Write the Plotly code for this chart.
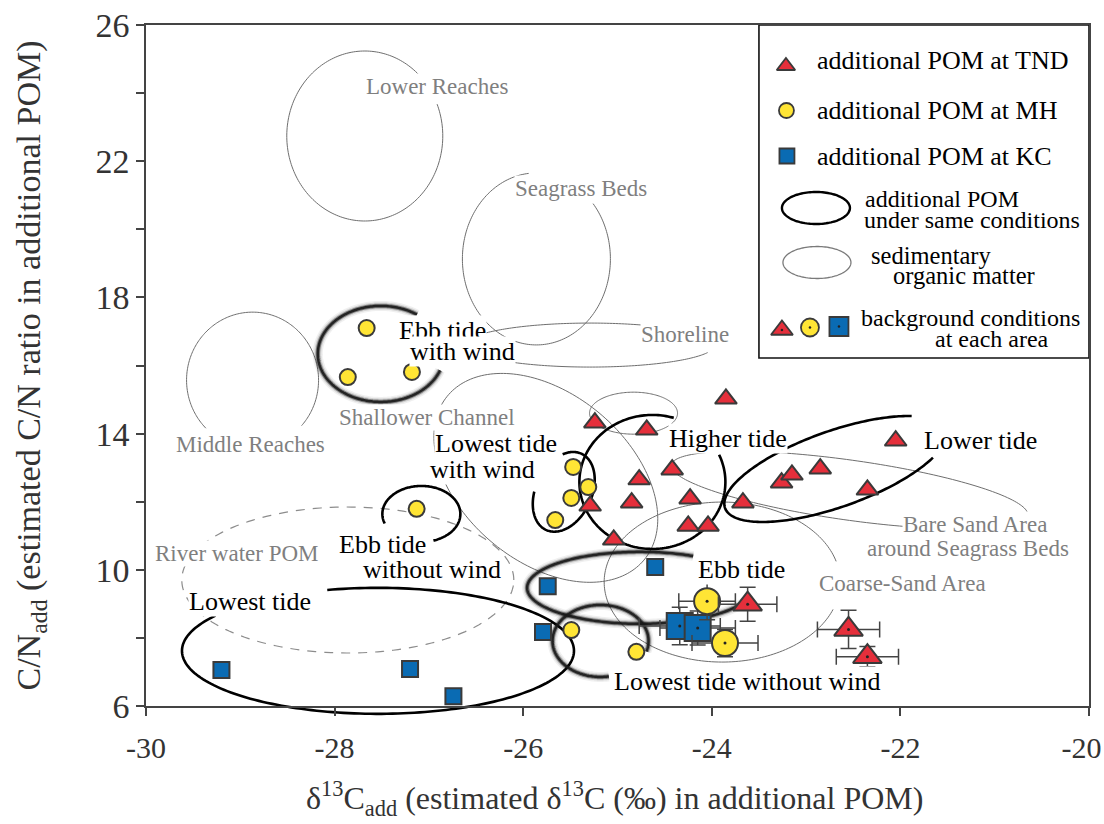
import numpy as np
import plotly.graph_objects as go

FONT = "Liberation Serif, Times New Roman, serif"

# ---------------- data ----------------
# additional POM, TND (triangles)
tnd_d13c = [-25.24, -24.69, -23.85, -24.42, -24.77, -24.85, -25.29, -24.23, -24.25,
            -24.04, -25.04, -23.67, -23.26, -23.15, -22.85, -22.35, -22.05]
tnd_cn = [14.32, 14.11, 15.02, 12.94, 12.65, 11.97, 11.88, 12.09, 11.29,
          11.29, 10.88, 11.97, 12.56, 12.79, 12.97, 12.35, 13.79]
# additional POM, MH (circles)
mh_d13c = [-27.66, -27.86, -27.18, -27.13, -25.47, -25.31, -25.49, -25.66, -25.49, -24.80]
mh_cn = [17.10, 15.66, 15.81, 11.79, 13.02, 12.43, 12.11, 11.46, 8.23, 7.59]
# additional POM, KC (squares)
kc_d13c = [-29.20, -27.20, -26.74, -24.60, -25.74, -25.79]
kc_cn = [7.06, 7.09, 6.29, 10.08, 9.52, 8.17]

# background conditions at each area (mean and SD)
bg_tnd_d13c = [-23.62, -22.55, -22.35]
bg_tnd_cn = [8.99, 8.25, 7.45]
bg_tnd_d13c_sd = [0.31, 0.33, 0.33]
bg_tnd_cn_sd = [0.50, 0.56, 0.30]
bg_mh_d13c = [-24.05, -23.86]
bg_mh_cn = [9.08, 7.85]
bg_mh_d13c_sd = [0.30, 0.35]
bg_mh_cn_sd = [0.55, 0.40]
bg_kc_d13c = [-24.34, -24.15]
bg_kc_cn = [8.35, 8.29]
bg_kc_d13c_sd = [0.43, 0.40]
bg_kc_cn_sd = [0.55, 0.50]

x_ticks = [-30, -28, -26, -24, -22, -20]
# last label padded with non-breaking spaces so it stays inside the page edge
x_ticklabels = ["-30", "-28", "-26", "-24", "-22", "-20\u00a0\u00a0"]
y_ticks = [6, 10, 14, 18, 22, 26]

# ---------------- layout geometry ----------------
W, H = 1104, 824
MARGIN = dict(l=146, r=15, t=25, b=118)
PLOT_W = W - MARGIN["l"] - MARGIN["r"]
PLOT_H = H - MARGIN["t"] - MARGIN["b"]
X0, X1 = -30, -20
Y0, Y1 = 6, 26

RED, YELLOW, BLUE = "#E52F3B", "#FFE535", "#0A6BB3"
EDGE = "#3a3a3a"


def ring(cx, cy, a, b, rot=0.0, arc=(0, 360), n=200):
    """Ellipse (or open arc) centred on a data point; a, b are pixel semi-axes."""
    t = np.radians(np.linspace(arc[0], arc[1], n))
    r = np.radians(rot)
    u, v = a * np.cos(t), b * np.sin(t)
    dx = u * np.cos(r) - v * np.sin(r)
    dy = u * np.sin(r) + v * np.cos(r)
    xs = (cx - X0) / (X1 - X0) + dx / PLOT_W
    ys = (cy - Y0) / (Y1 - Y0) + dy / PLOT_H
    d = "M" + "L".join(f"{x:.5f},{y:.5f}" for x, y in zip(xs, ys))
    if arc[1] - arc[0] >= 360:
        d += "Z"
    return d


# sedimentary organic matter outlines: centre (d13C, C/N), pixel semi-axes, tilt, drawn arc
sediment_outlines = [
    dict(c=(-27.68, 22.74), a=78, b=85, rot=0, arc=(46, 382)),      # Lower Reaches
    dict(c=(-25.86, 19.13), a=74, b=86, rot=0, arc=(96, 400)),      # Seagrass Beds
    dict(c=(-25.29, 16.60), a=125, b=22, rot=0, arc=(60, 340)),     # Shoreline
    dict(c=(-24.83, 14.60), a=44, b=21, rot=0, arc=(0, 360)),       # Shoreline (inner)
    dict(c=(-28.87, 15.57), a=66, b=68, rot=0, arc=(318, 585)),     # Middle Reaches
    dict(c=(-25.76, 12.70), a=128, b=84, rot=-40, arc=(0, 360)),    # Shallower Channel
    dict(c=(-23.89, 9.64), a=118, b=80, rot=0, arc=(15, 340)),      # Coarse-Sand Area
    dict(c=(-22.54, 12.34), a=180, b=30, rot=-8, arc=(0, 360)),     # Bare Sand Area
]
river_outline = dict(c=(-27.86, 9.70), a=166, b=73, rot=0, arc=(0, 360))

# additional POM under the same conditions
condition_outlines = [
    dict(c=(-27.08, 11.64), a=39, b=28, rot=0, arc=(-72, 200), soft=False),    # Ebb tide without wind
    dict(c=(-27.54, 7.62), a=196, b=63, rot=0, arc=(146, 465), soft=False),    # Lowest tide
    dict(c=(-25.57, 12.29), a=42, b=28, rot=65, arc=(107, 397), soft=False),   # Lowest tide with wind
    dict(c=(-24.63, 12.58), a=73, b=67, rot=0, arc=(73, 384), soft=False),     # Higher tide
    dict(c=(-22.69, 12.96), a=117, b=38, rot=19.5, arc=(40, 325), soft=False), # Lower tide
    dict(c=(-27.51, 16.34), a=63, b=48, rot=0, arc=(55, 340), soft=True),      # Ebb tide with wind
    dict(c=(-24.76, 9.47), a=113, b=36, rot=0, arc=(62, 343), soft=True),      # Ebb tide
    dict(c=(-25.18, 7.91), a=48, b=36, rot=0, arc=(-17, 280), soft=True),      # Lowest tide without wind
]

shapes = []
for o in sediment_outlines:
    shapes.append(dict(type="path", xref="paper", yref="paper", layer="below",
                       path=ring(*o["c"], o["a"], o["b"], o["rot"], o["arc"]),
                       line=dict(color="#6e6e6e", width=1)))
shapes.append(dict(type="path", xref="paper", yref="paper", layer="below",
                   path=ring(*river_outline["c"], river_outline["a"], river_outline["b"],
                             river_outline["rot"], river_outline["arc"]),
                   line=dict(color="#8c8c8c", width=1.2, dash="9px,8px")))

SOFT = [(10, "rgba(0,0,0,0.06)"), (7, "rgba(0,0,0,0.12)"),
        (4.5, "rgba(25,25,25,0.45)"), (2.5, "rgba(25,25,25,0.9)")]
for o in condition_outlines:
    p = ring(*o["c"], o["a"], o["b"], o["rot"], o["arc"])
    if o["soft"]:
        for w, col in SOFT:
            shapes.append(dict(type="path", xref="paper", yref="paper", layer="below",
                               path=p, line=dict(color=col, width=w)))
    else:
        shapes.append(dict(type="path", xref="paper", yref="paper", layer="below",
                           path=p, line=dict(color="black", width=2.6)))

# legend frame (paper) and legend ellipses (legend-local pixel axes)
LEG_DOM_X = [0.650, 1.0]
LEG_DOM_Y = [0.511, 1.0]
LEG_W = PLOT_W * (LEG_DOM_X[1] - LEG_DOM_X[0])
LEG_H = PLOT_H * (LEG_DOM_Y[1] - LEG_DOM_Y[0])
shapes.append(dict(type="rect", xref="paper", yref="paper", layer="below",
                   x0=LEG_DOM_X[0], x1=LEG_DOM_X[1], y0=LEG_DOM_Y[0], y1=LEG_DOM_Y[1],
                   fillcolor="white", line=dict(color="#111", width=1.6)))


def legend_ellipse(cx, cy, a, b, n=120):
    t = np.linspace(0, 2 * np.pi, n)
    return "M" + "L".join(f"{cx + a*np.cos(v):.2f},{cy + b*np.sin(v):.2f}" for v in t) + "Z"


shapes.append(dict(type="path", xref="x2", yref="y2", layer="above",
                   path=legend_ellipse(57, 183, 34, 16), line=dict(color="black", width=2.4)))
shapes.append(dict(type="path", xref="x2", yref="y2", layer="above",
                   path=legend_ellipse(58, 237.5, 34, 16), line=dict(color="#7a7a7a", width=1.3)))

fig = go.Figure()


def add_points(x, y, symbol, color, size, xerr=None, yerr=None):
    kw = {}
    if xerr is not None:
        kw["error_x"] = dict(type="data", array=xerr, color="#444", thickness=1.5, width=8)
        kw["error_y"] = dict(type="data", array=yerr, color="#444", thickness=1.5, width=8)
    fig.add_trace(go.Scatter(x=x, y=y, mode="markers", showlegend=False, hoverinfo="skip",
                             marker=dict(symbol=symbol, color=color, size=size,
                                         line=dict(color=EDGE, width=2)), **kw))


add_points(kc_d13c, kc_cn, "square", BLUE, 16)
add_points(mh_d13c, mh_cn, "circle", YELLOW, 16)
add_points(tnd_d13c, tnd_cn, "triangle-up", RED, 19)

add_points(bg_kc_d13c, bg_kc_cn, "square", BLUE, 26, bg_kc_d13c_sd, bg_kc_cn_sd)
add_points(bg_mh_d13c, bg_mh_cn, "circle", YELLOW, 26, bg_mh_d13c_sd, bg_mh_cn_sd)
add_points(bg_tnd_d13c, bg_tnd_cn, "triangle-up", RED, 25, bg_tnd_d13c_sd, bg_tnd_cn_sd)
fig.add_trace(go.Scatter(x=bg_kc_d13c + bg_mh_d13c + bg_tnd_d13c,
                         y=bg_kc_cn + bg_mh_cn + bg_tnd_cn, mode="markers",
                         showlegend=False, hoverinfo="skip",
                         marker=dict(size=3, color="#222")))

# legend symbols on the legend-local axes (pixels from the frame's top-left corner)
leg_sym = [
    (27, 41, "triangle-up", RED, 16),
    (27.5, 85.5, "circle", YELLOW, 15),
    (28, 131, "square", BLUE, 15),
    (23, 305, "triangle-up", RED, 19),
    (51, 302.5, "circle", YELLOW, 18),
    (80, 301.5, "square", BLUE, 19),
]
for lx, ly, sym, col, sz in leg_sym:
    fig.add_trace(go.Scatter(x=[lx], y=[ly], xaxis="x2", yaxis="y2", mode="markers",
                             showlegend=False, hoverinfo="skip",
                             marker=dict(symbol=sym, color=col, size=sz,
                                         line=dict(color=EDGE, width=1.8))))
fig.add_trace(go.Scatter(x=[s[0] for s in leg_sym[3:]], y=[s[1] for s in leg_sym[3:]],
                         xaxis="x2", yaxis="y2", mode="markers", showlegend=False,
                         hoverinfo="skip", marker=dict(size=2.5, color="#222")))

annotations = []


def label(text, x, y, size, color, bg=True):
    annotations.append(dict(text=text, x=x, y=y, xref="x", yref="y", showarrow=False,
                            xanchor="center", yanchor="middle",
                            font=dict(family=FONT, size=size, color=color),
                            bgcolor="white" if bg else None, borderpad=0))


# sediment labels
GRAY = "#7f7f7f"
label("Lower Reaches", -26.91, 24.18, 23, GRAY)
label("Seagrass Beds", -25.39, 21.21, 23, GRAY)
label("Shoreline", -24.28, 16.90, 23, GRAY)
label("Middle Reaches", -28.89, 13.67, 23, GRAY)
label("Shallower Channel", -27.02, 14.46, 23, GRAY)
label("River water POM", -29.04, 10.49, 23, GRAY)
label("Bare Sand Area", -21.21, 11.32, 23, GRAY)
label("around Seagrass Beds", -21.28, 10.64, 23, GRAY)
label("Coarse-Sand Area", -21.98, 9.61, 23, GRAY)

# condition labels
label("Ebb tide", -26.86, 17.04, 26, "black")
label("with wind", -26.64, 16.40, 26, "black")
label("Lowest tide", -26.29, 13.72, 26, "black")
label("with wind", -26.43, 12.96, 26, "black")
label("Higher tide", -23.83, 13.87, 26, "black")
label("Lower tide", -21.15, 13.81, 26, "black")
label("Ebb tide", -27.49, 10.73, 26, "black")
label("without wind", -26.97, 10.02, 26, "black")
label("Lowest tide", -28.90, 9.08, 26, "black")
label("Ebb tide", -23.69, 10.02, 26, "black")
label("Lowest tide without wind", -23.63, 6.71, 26, "black")

# legend text: (text, left x, centre y, font size)
leg_text = [
    ("additional POM at TND", 56, 35, 26),
    ("additional POM at MH", 56, 85, 26),
    ("additional POM at KC", 56, 131, 26),
    ("additional POM", 104, 174, 24),
    ("under same conditions", 103, 195, 24),
    ("sedimentary", 110, 230, 24.5),
    ("organic matter", 132, 250, 24.5),
    ("background conditions", 100, 293, 24),
    ("at each area", 174, 314, 24),
]
for t, lx, ly, fs in leg_text:
    annotations.append(dict(text=t, x=lx, y=ly, xref="x2", yref="y2", showarrow=False,
                            xanchor="left", yanchor="middle",
                            font=dict(family=FONT, size=fs, color="black")))

# axis titles
annotations.append(dict(text="δ<sup>13</sup>C<sub>add</sub> (estimated δ<sup>13</sup>C (‰) in additional POM)",
                        x=(614 - MARGIN["l"]) / PLOT_W, y=-(798 - (H - MARGIN["b"])) / PLOT_H,
                        xref="paper", yref="paper", showarrow=False,
                        xanchor="center", yanchor="middle",
                        font=dict(family=FONT, size=32, color="#333")))
annotations.append(dict(text="C/N<sub>add</sub> (estimated C/N ratio in additional POM)",
                        x=-(MARGIN["l"] - 30) / PLOT_W, y=0.5, textangle=-90,
                        xref="paper", yref="paper", showarrow=False,
                        xanchor="center", yanchor="middle",
                        font=dict(family=FONT, size=34, color="#333")))

axis_common = dict(showline=True, mirror=True, linecolor="#444", linewidth=1.5,
                   ticks="outside", ticklen=8, tickwidth=1.5, tickcolor="#444",
                   showgrid=False, zeroline=False, ticklabeloverflow="allow",
                   automargin=False)

fig.update_layout(
    width=W, height=H, margin=MARGIN,
    paper_bgcolor="white", plot_bgcolor="rgba(0,0,0,0)",
    showlegend=False,
    xaxis=dict(range=[X0, X1], tickvals=x_ticks, ticktext=x_ticklabels,
               tickfont=dict(family=FONT, size=30, color="#333"), ticklabelstandoff=6,
               **axis_common),
    yaxis=dict(range=[Y0, Y1], tickvals=y_ticks, ticktext=[str(v) for v in y_ticks],
               tickfont=dict(family=FONT, size=34, color="#333"),
               minor=dict(tick0=6, dtick=2, ticks="outside", ticklen=8, tickwidth=1.5,
                          tickcolor="#444", showgrid=False),
               **axis_common),
    xaxis2=dict(domain=LEG_DOM_X, anchor="y2", range=[0, LEG_W], visible=False,
                fixedrange=True, automargin=False),
    yaxis2=dict(domain=LEG_DOM_Y, anchor="x2", range=[LEG_H, 0], visible=False,
                fixedrange=True, automargin=False),
    shapes=shapes, annotations=annotations,
)

fig.write_html("out.html")
